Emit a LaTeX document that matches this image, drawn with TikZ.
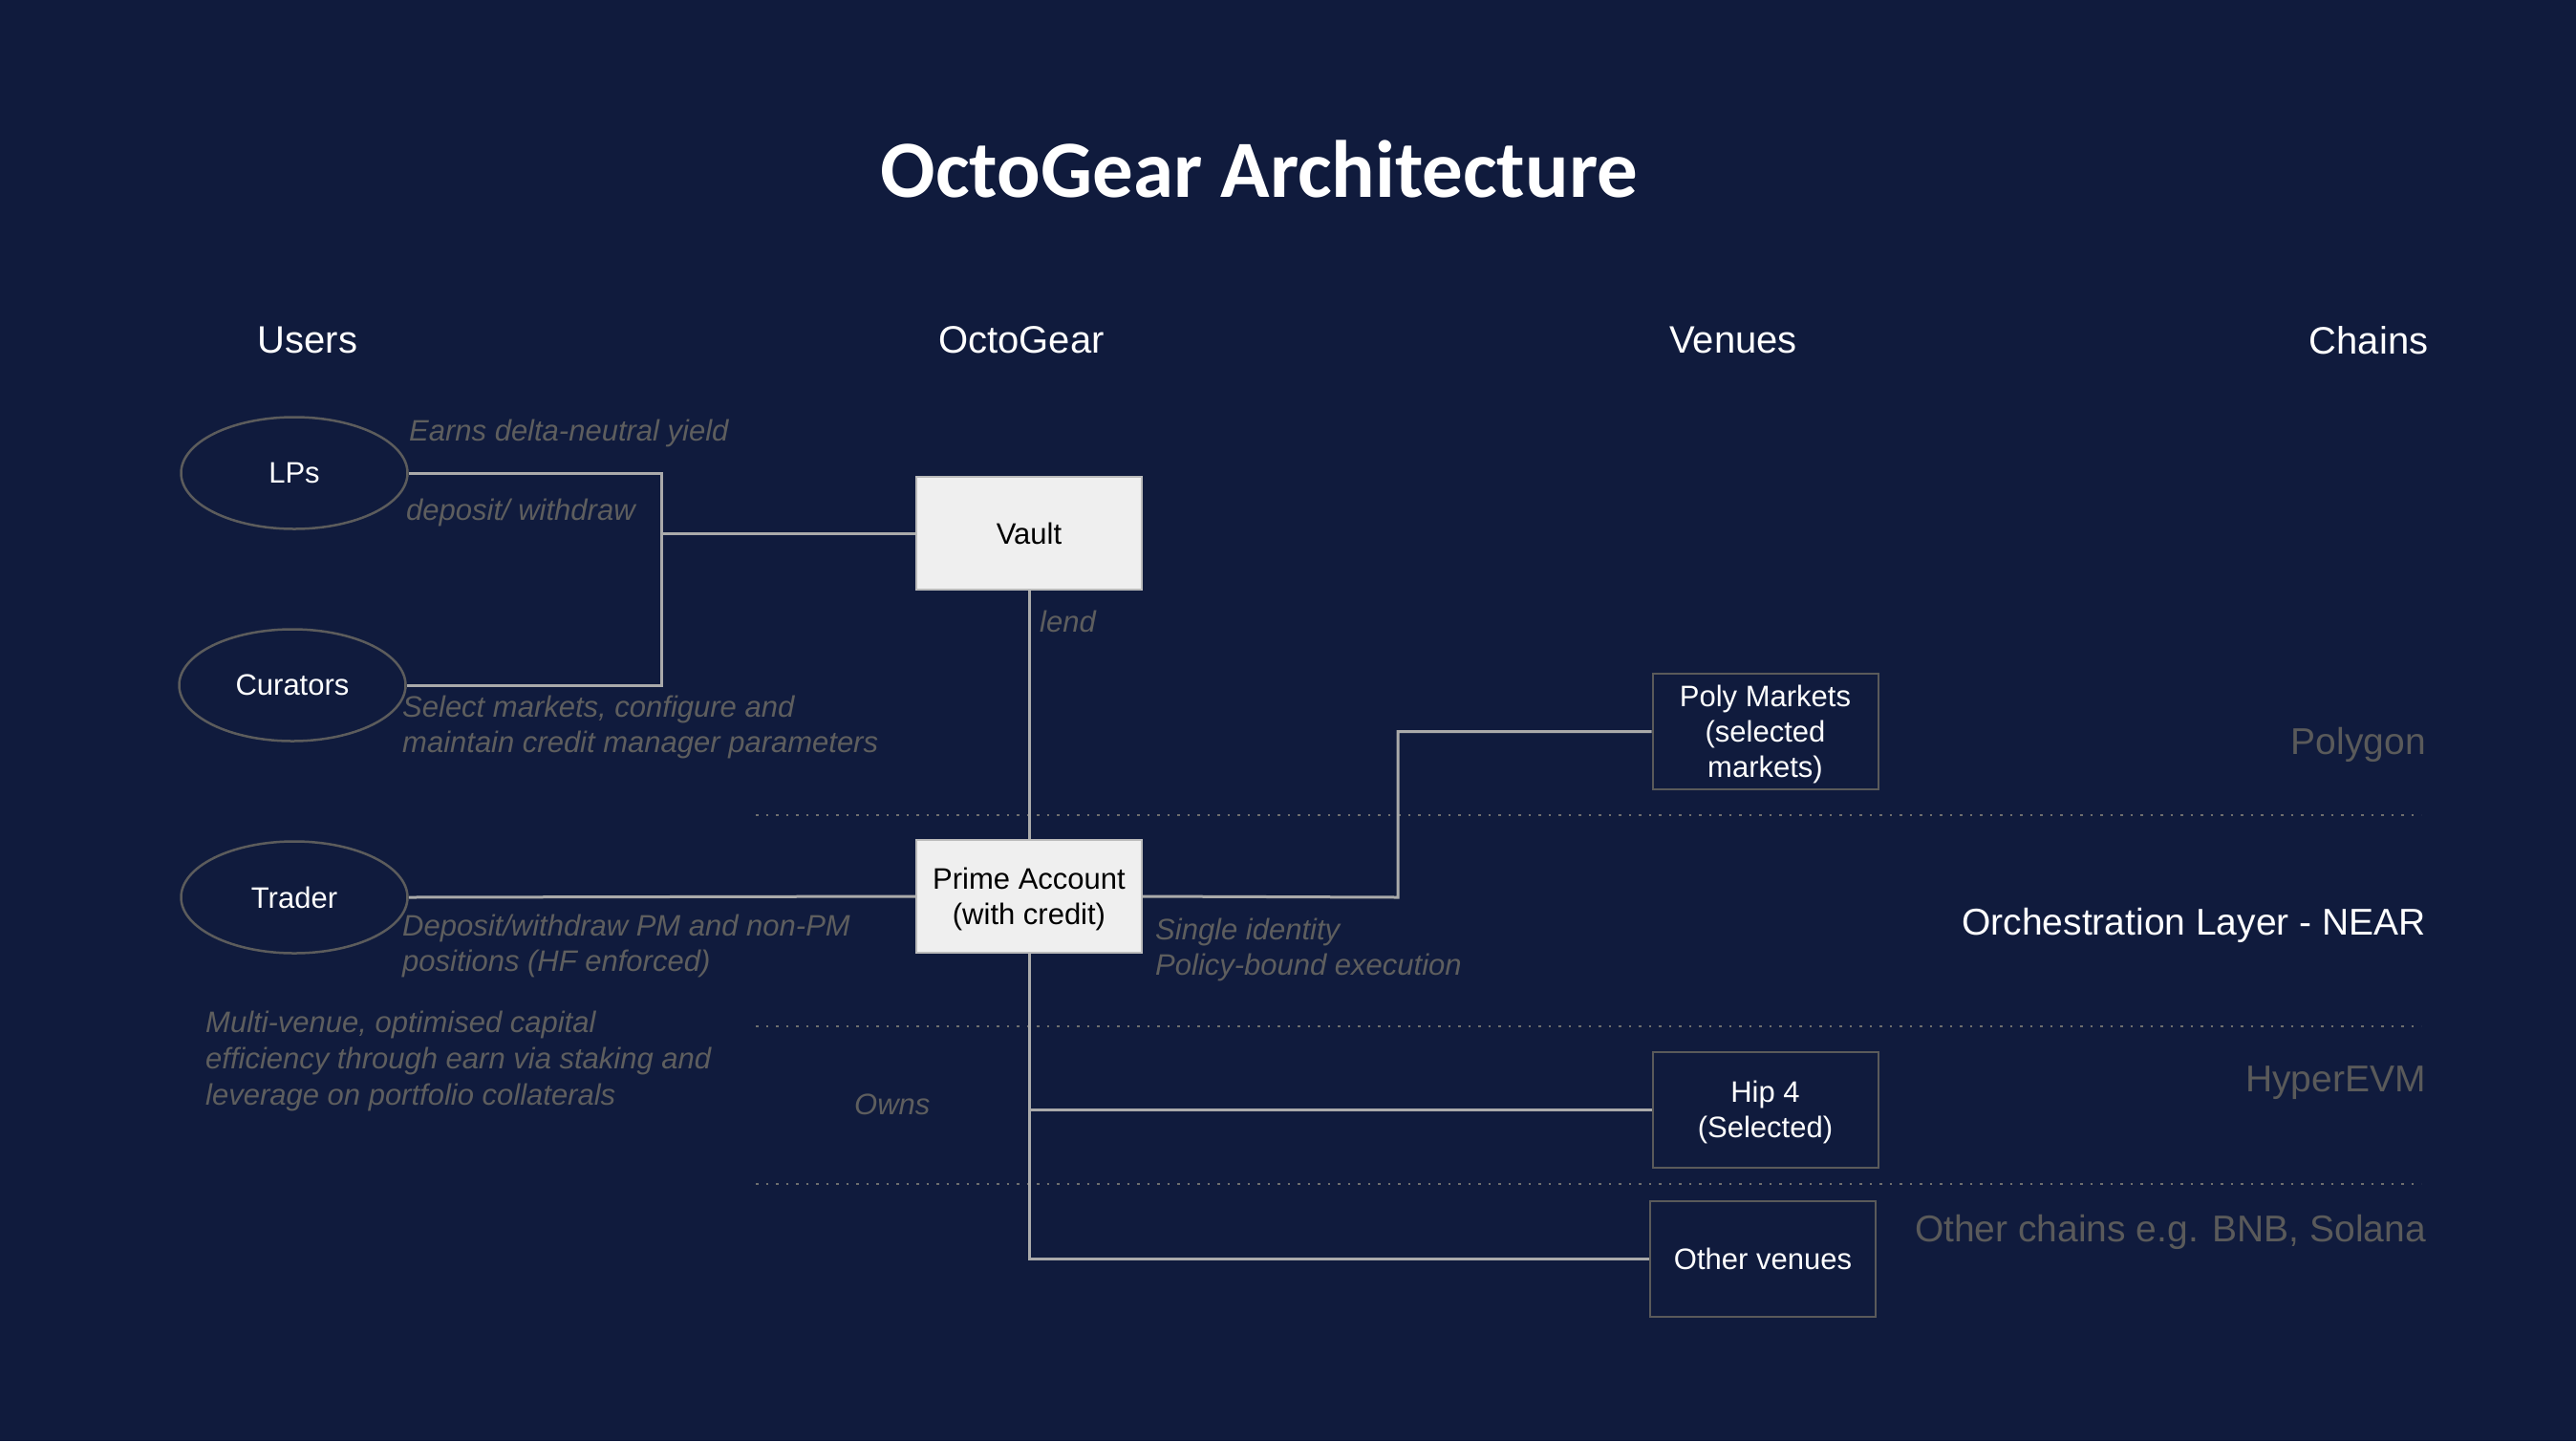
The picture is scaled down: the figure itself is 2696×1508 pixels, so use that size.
\documentclass[tikz,border=0pt]{standalone}
\usepackage{fontspec}
\setmainfont{Liberation Sans}
\newfontfamily\titlefont{Carlito}
\usetikzlibrary{shapes.geometric}
\definecolor{bg}{HTML}{101B3D}
\definecolor{conn}{HTML}{AAAAAA}
\definecolor{lbl}{HTML}{5E5E5E}
\definecolor{chain}{HTML}{5A5A5A}
\definecolor{ellb}{HTML}{5C5C5C}
\definecolor{vbord}{HTML}{5A5A5A}
\definecolor{lightbox}{HTML}{EFEFEF}
\definecolor{dotc}{HTML}{6E6E6E}
\newcommand{\mlines}[1]{\raisebox{-3.5pt}[\height][\depth]{\begin{tabular}{@{}c@{}}#1\end{tabular}}}
\tikzset{
  txt/.style={font=\fontsize{31}{37}\selectfont},
  user/.style={ellipse, draw=ellb, line width=2.5pt, fill=bg, minimum width=237, minimum height=117, text=white, txt, inner sep=0pt},
  corebox/.style={rectangle, draw=conn!80, line width=2pt, fill=lightbox, minimum width=236, minimum height=118, text=black, txt, inner sep=0pt},
  venuebox/.style={rectangle, draw=vbord, line width=2pt, fill=bg, minimum width=236, minimum height=121, text=white, txt, inner sep=0pt},
  note/.style={text=lbl, font=\fontsize{31}{37}\selectfont\itshape, inner sep=0pt, align=left, anchor=west},
  header/.style={text=white, font=\fontsize{40}{48}\selectfont, inner sep=0pt},
  chainlbl/.style={text=chain, font=\fontsize{39}{46}\selectfont, inner sep=0pt, anchor=east},
  wire/.style={draw=conn, line width=3pt},
  sep/.style={draw=dotc, line width=2.5pt, dash pattern=on 2.5pt off 8pt},
}
\begin{document}
\begin{tikzpicture}[x=1pt, y=-1pt]
\fill[bg] (0,0) rectangle (2696,1508);
\useasboundingbox (0,0) rectangle (2696,1508);

% title
\node[text=white, font=\titlefont\bfseries\fontsize{85}{100}\selectfont, inner sep=0pt] (title) at (1318,177) {OctoGear Architecture};

% headers
\node[header] (hUsers) at (322,356) {Users};
\node[header] (hOcto) at (1069,356) {OctoGear};
\node[header] (hVen) at (1814,356) {Venues};
\node[header] (hChains) at (2479,356) {Chains};

% dotted separators
\coordinate (s1a) at (791,853); \coordinate (s1b) at (2534,853);
\coordinate (s2a) at (791,1074); \coordinate (s2b) at (2534,1074);
\coordinate (s3a) at (791,1239); \coordinate (s3b) at (2534,1239);
\draw[sep] (s1a) -- (s1b);
\draw[sep] (s2a) -- (s2b);
\draw[sep] (s3a) -- (s3b);

% nodes
\node[user] (lps) at (308,495) {LPs};
\node[user] (cur) at (306,717) {Curators};
\node[user] (trader) at (308,939) {Trader};
\node[corebox] (vault) at (1077,558) {Vault};
\node[corebox] (prime) at (1077,938) {\mlines{Prime Account\\(with credit)}};
\node[venuebox] (poly) at (1847.5,765.5) {\mlines{Poly Markets\\(selected\\markets)}};
\node[venuebox] (hip) at (1847.5,1161.5) {\mlines{Hip 4\\(Selected)}};
\node[venuebox] (other) at (1845,1317.5) {Other venues};

% connectors
\coordinate (j1) at (692,558);
\coordinate (j2) at (1463,939);
\draw[wire] (lps.east) -| (j1) -- (vault.west);
\draw[wire] (cur.east) -| (j1);
\draw[wire] (vault.south) -- (prime.north);
\draw[wire] (trader.east) -- (prime.west);
\draw[wire] (prime.east) -- (j2) |- (poly.west);
\draw[wire] (prime.south) -- (prime.south |- other.west) -- (other.west);
\draw[wire] (prime.south |- hip.west) -- (hip.west);

% notes
\node[note] (n1) at (428,453) {Earns delta-neutral yield};
\node[note] (n2) at (425,536) {deposit/ withdraw};
\node[note] (n3) at (421,760.5) {Select markets, configure and\\maintain credit manager parameters};
\node[note] (n4) at (1088,650) {lend};
\node[note] (n5) at (421,989.5) {Deposit/withdraw PM and non-PM\\positions (HF enforced)};
\node[note, font=\fontsize{31}{38}\selectfont\itshape] (n6) at (215,1110.5) {Multi-venue, optimised capital\\efficiency through earn via staking and\\leverage on portfolio collaterals};
\node[note] (n7) at (894,1156) {Owns};
\node[note] (n8) at (1209,993.5) {Single identity\\Policy-bound execution};

% chains
\node[chainlbl] (cPoly) at (2539,779) {Polygon};
\node[chainlbl, text=white] (cNear) at (2539,968) {Orchestration Layer - NEAR};
\node[chainlbl] (cHyper) at (2539,1133) {HyperEVM};
\node[chainlbl] (cOther) at (2539,1289) {Other chains e.g. BNB, Solana};
\end{tikzpicture}
\end{document}
